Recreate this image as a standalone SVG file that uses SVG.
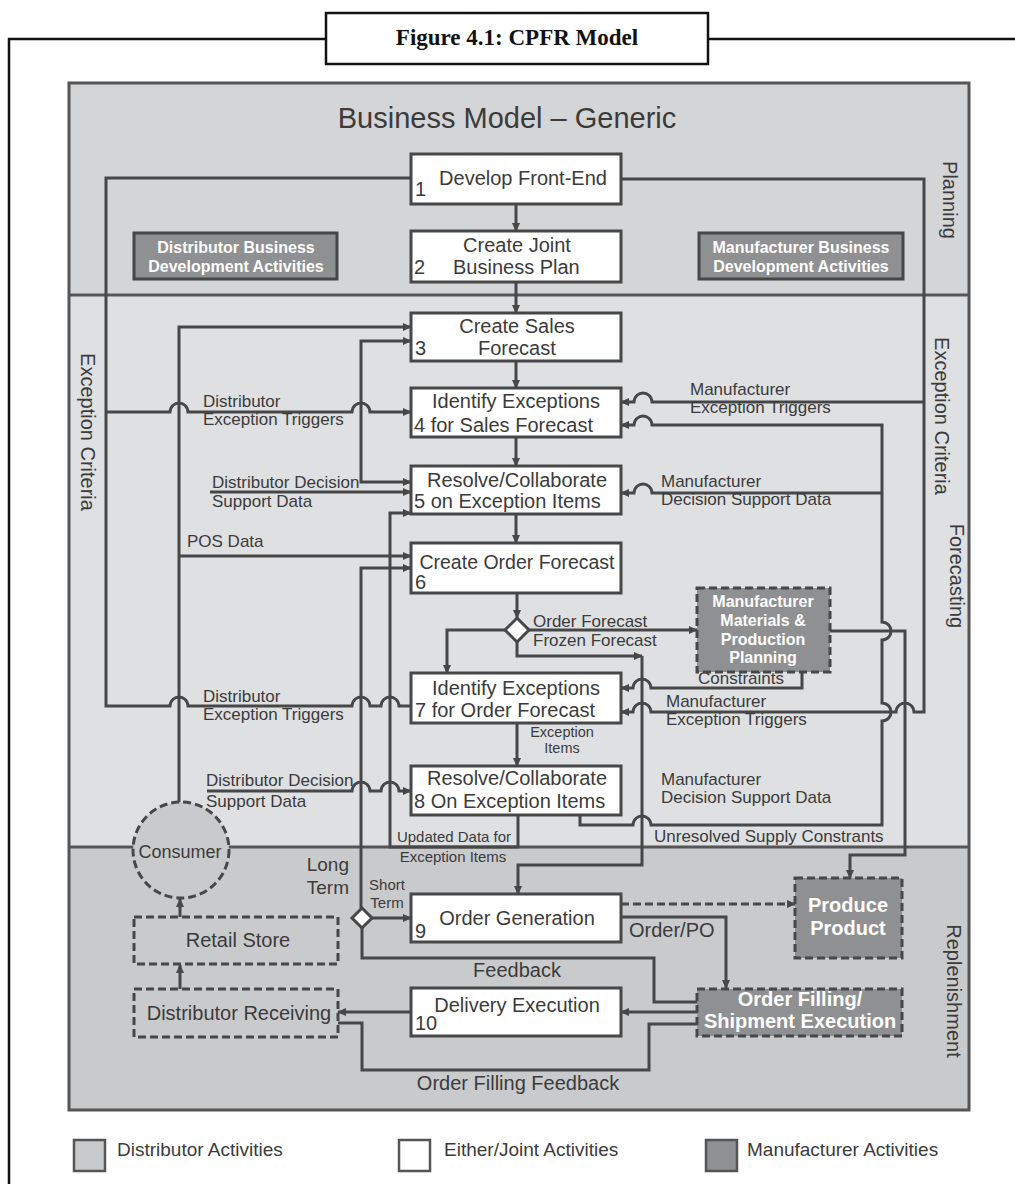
<svg xmlns="http://www.w3.org/2000/svg" width="1015" height="1184" viewBox="0 0 1015 1184">
<defs>
<marker id="ah" markerUnits="userSpaceOnUse" markerWidth="9" markerHeight="8" refX="8" refY="4" orient="auto-start-reverse"><path d="M0,0 L9,4 L0,8 z" fill="#474747"/></marker>
<style>
text{font-family:"Liberation Sans",Arial,sans-serif;fill:#3b3b3b}
.ln{fill:none;stroke:#474747;stroke-width:3}
.ar{marker-end:url(#ah)}
.nd{fill:#fff;stroke:#474747;stroke-width:3}
.dk{fill:#8f9092;stroke:#474747;stroke-width:3}
.ds{stroke-dasharray:8 4}
.t20{font-size:20px}
.t17{font-size:17px}
.t15{font-size:15px}
.mid{text-anchor:middle}
.wb{fill:#fff;font-weight:bold}
</style>
</defs>
<rect width="1015" height="1184" fill="#fff"/>
<!-- outer frame and title -->
<g id="frame">
<path d="M9,1184 L9,39 L326,39 M708,39 L1015,39" fill="none" stroke="#111" stroke-width="2.5"/>
<rect x="326" y="13" width="382" height="51" fill="#fff" stroke="#111" stroke-width="2.5"/>
<text x="517" y="45" text-anchor="middle" style="font-family:'Liberation Serif',serif;font-weight:bold;font-size:23px;fill:#111">Figure 4.1: CPFR Model</text>
</g>
<!-- sections -->
<g id="sections">
<rect x="69" y="83" width="900" height="212" fill="#d4d5d7"/>
<rect x="69" y="295" width="900" height="552" fill="#dfe0e2"/>
<rect x="69" y="847" width="900" height="263" fill="#c9cacc"/>
<rect x="69" y="83" width="900" height="1027" fill="none" stroke="#555" stroke-width="3"/>
<line x1="69" y1="295" x2="969" y2="295" stroke="#555" stroke-width="3"/>
<line x1="69" y1="847" x2="969" y2="847" stroke="#555" stroke-width="3"/>
<text x="507" y="128" text-anchor="middle" style="font-size:29px">Business Model – Generic</text>
<text transform="translate(943,200) rotate(90)" class="t20 mid">Planning</text>
<text transform="translate(935,416) rotate(90)" class="t20 mid">Exception Criteria</text>
<text transform="translate(950,576) rotate(90)" class="t20 mid">Forecasting</text>
<text transform="translate(947,991) rotate(90)" class="t20 mid">Replenishment</text>
<text transform="translate(81,432) rotate(90)" class="t20 mid">Exception Criteria</text>
</g>
<!-- connectors -->
<g id="connectors">
<path class="ln ar" d="M516,204 L516,231"/>
<path class="ln ar" d="M516,282 L516,313"/>
<path class="ln ar" d="M516,361 L516,388"/>
<path class="ln ar" d="M516,437 L516,466"/>
<path class="ln ar" d="M516,514 L516,543"/>
<path class="ln ar" d="M517,593 L517,618"/>
<path class="ln ar" d="M505,630 L447,630 L447,673"/>
<path class="ln ar" d="M529,630 L697,630"/>
<path class="ln ar" d="M517,642 L517,656 L642,656"/>
<path class="ln ar" d="M642,656 L642,865 L518,865 L518,894"/>
<path class="ln ar" d="M517,723 L517,766"/>
<path class="ln ar" d="M518,815 L518,847 L390,847 L390,513 L411,513"/>
<path class="ln" d="M411,178 L106,178 L106,706 L170,706 C171,694 187,694 188,706 L352,706 C353,694 369,694 370,706 L381,706 C382,694 398,694 399,706 L411,706"/>
<path class="ln ar" d="M106,412 L170,412 C171,400 187,400 188,412 L352,412 C353,400 369,400 370,412 L411,412"/>
<path class="ln ar" d="M179,802 L179,327 L411,327"/>
<path class="ln ar" d="M179,556 L411,556"/>
<path class="ln ar" d="M411,341 L361,341 L361,482 L411,482" marker-start="url(#ah)"/>
<path class="ln ar" d="M210,492 L411,492"/>
<path class="ln ar" d="M361,908 L361,568 L411,568"/>
<path class="ln ar" d="M207,791 L352,791 C353,779 369,779 370,791 L381,791 C382,779 398,779 399,791 L411,791"/>
<path class="ln ar" d="M372,918 L411,918"/>
<path class="ln" d="M362,928 L362,958 L654,958 L654,1002 L697,1002"/>
<path class="ln ar" d="M621,917 L726,917 L726,988"/>
<path class="ln ar ds" d="M621,904 L795,904"/>
<path class="ln ar" d="M697,1012 L621,1012"/>
<path class="ln" d="M697,1024 L649,1024 L649,1070 L362,1070 L362,1023 L338,1023"/>
<path class="ln ar" d="M411,1012 L338,1012"/>
<path class="ln ar" d="M180,989 L180,965"/>
<path class="ln ar" d="M180,917 L180,899"/>
<path class="ln ar" d="M621,179 L924,179 L924,712 L914,712 C913,700 897,700 896,712 L651,712 C650,700 634,700 633,712 L621,712"/>
<path class="ln ar" d="M924,402 L652,402 C651,390 635,390 634,402 L621,402"/>
<path class="ln ar" d="M580,815 L580,825 L633,825 C634,813 650,813 651,825 L882,825 L882,721 C894,720 894,704 882,703 L882,640 C894,639 894,623 882,622 L882,425 L652,425 C651,413 635,413 634,425 L621,425"/>
<path class="ln ar" d="M882,493 L652,493 C651,481 635,481 634,493 L621,493"/>
<path class="ln ar" d="M830,631 L905,631 L905,855 L850,855 L850,878"/>
<path class="ln ar" d="M802,672 L802,688 L651,688 C650,676 634,676 633,688 L621,688"/>
<path d="M517,618 L529,630 L517,642 L505,630 Z" fill="#fff" stroke="#474747" stroke-width="3"/>
<path d="M362,908 L372,918 L362,928 L352,918 Z" fill="#fff" stroke="#474747" stroke-width="3"/>
<text x="203" y="407" class="t17">Distributor</text>
<text x="203" y="425" class="t17">Exception Triggers</text>
<text x="212" y="488" class="t17">Distributor Decision</text>
<text x="212" y="507" class="t17">Support Data</text>
<text x="187" y="547" class="t17">POS Data</text>
<text x="203" y="702" class="t17">Distributor</text>
<text x="203" y="720" class="t17">Exception Triggers</text>
<text x="206" y="786" class="t17">Distributor Decision</text>
<text x="206" y="807" class="t17">Support Data</text>
<text x="690" y="395" class="t17">Manufacturer</text>
<text x="690" y="413" class="t17">Exception Triggers</text>
<text x="661" y="487" class="t17">Manufacturer</text>
<text x="661" y="505" class="t17">Decision Support Data</text>
<text x="533" y="627" class="t17">Order Forecast</text>
<text x="533" y="646" class="t17">Frozen Forecast</text>
<text x="698" y="684" class="t17">Constraints</text>
<text x="666" y="707" class="t17">Manufacturer</text>
<text x="666" y="725" class="t17">Exception Triggers</text>
<text x="562" y="737" class="mid" style="font-size:14.5px">Exception</text>
<text x="562" y="753" class="mid" style="font-size:14.5px">Items</text>
<text x="661" y="785" class="t17">Manufacturer</text>
<text x="661" y="803" class="t17">Decision Support Data</text>
<text x="654" y="842" class="t17">Unresolved Supply Constrants</text>
<text x="454" y="842" class="t15 mid">Updated Data for</text>
<text x="453" y="862" class="t15 mid">Exception Items</text>
<text x="349" y="871" style="font-size:19px;text-anchor:end">Long</text>
<text x="349" y="894" style="font-size:19px;text-anchor:end">Term</text>
<text x="387" y="890" class="t15 mid">Short</text>
<text x="387" y="908" class="t15 mid">Term</text>
<text x="629" y="937" class="t20">Order/PO</text>
<text x="517" y="977" class="t20 mid">Feedback</text>
<text x="518" y="1090" class="t20 mid">Order Filling Feedback</text>
</g>
<!-- nodes -->
<g id="n1"><rect class="nd" x="411" y="154" width="210" height="50"/><text x="523" y="185" class="t20 mid">Develop Front-End</text><text x="415" y="196" class="t20">1</text></g>
<g id="n2"><rect class="nd" x="411" y="231" width="210" height="51"/><text x="517" y="252" class="t20 mid">Create Joint</text><text y="274" class="t20"><tspan x="414">2</tspan><tspan x="453">Business Plan</tspan></text></g>
<g id="n3"><rect class="nd" x="411" y="313" width="210" height="48"/><text x="517" y="333" class="t20 mid">Create Sales</text><text y="355" class="t20"><tspan x="415">3</tspan><tspan x="478">Forecast</tspan></text></g>
<g id="n4"><rect class="nd" x="411" y="388" width="210" height="49"/><text x="516" y="408" class="t20 mid">Identify Exceptions</text><text x="414" y="432" class="t20">4 for Sales Forecast</text></g>
<g id="n5"><rect class="nd" x="411" y="466" width="210" height="48"/><text x="517" y="487" class="t20 mid">Resolve/Collaborate</text><text x="414" y="508" class="t20">5 on Exception Items</text></g>
<g id="n6"><rect class="nd" x="411" y="543" width="210" height="50"/><text x="517" y="569" class="mid" style="font-size:19.5px">Create Order Forecast</text><text x="415" y="589" class="t20">6</text></g>
<g id="n7"><rect class="nd" x="411" y="673" width="210" height="50"/><text x="516" y="695" class="t20 mid">Identify Exceptions</text><text x="415" y="717" class="t20">7 for Order Forecast</text></g>
<g id="n8"><rect class="nd" x="411" y="766" width="210" height="49"/><text x="517" y="785" class="t20 mid">Resolve/Collaborate</text><text x="414" y="808" class="t20">8 On Exception Items</text></g>
<g id="n9"><rect class="nd" x="411" y="894" width="210" height="48"/><text x="517" y="925" class="t20 mid">Order Generation</text><text x="415" y="938" class="t20">9</text></g>
<g id="n10"><rect class="nd" x="411" y="988" width="210" height="48"/><text x="517" y="1012" class="t20 mid">Delivery Execution</text><text x="415" y="1030" class="t20">10</text></g>
<g id="dbda"><rect class="dk" x="134" y="233" width="203" height="46"/><text x="236" y="253" class="mid wb" style="font-size:16px">Distributor Business</text><text x="236" y="272" class="mid wb" style="font-size:16px">Development Activities</text></g>
<g id="mbda"><rect class="dk" x="699" y="233" width="204" height="46"/><text x="801" y="253" class="mid wb" style="font-size:16px">Manufacturer Business</text><text x="801" y="272" class="mid wb" style="font-size:16px">Development Activities</text></g>
<g id="mmpp"><rect class="dk ds" x="697" y="588" width="133" height="84"/><text x="763" y="607" class="mid wb" style="font-size:16px">Manufacturer</text><text x="763" y="626" class="mid wb" style="font-size:16px">Materials &amp;</text><text x="763" y="645" class="mid wb" style="font-size:16px">Production</text><text x="763" y="663" class="mid wb" style="font-size:16px">Planning</text></g>
<g id="consumer"><circle cx="181" cy="850" r="48" fill="#c9cacc" stroke="#474747" stroke-width="3" class="ds"/><text x="180" y="858" class="mid" style="font-size:18px">Consumer</text></g>
<g id="retail"><rect x="134" y="917" width="204" height="47" fill="none" stroke="#474747" stroke-width="3" class="ds"/><text x="238" y="947" class="t20 mid">Retail Store</text></g>
<g id="receiving"><rect x="134" y="989" width="204" height="48" fill="none" stroke="#474747" stroke-width="3" class="ds"/><text x="239" y="1020" class="t20 mid">Distributor Receiving</text></g>
<g id="produce"><rect class="dk ds" x="795" y="878" width="107" height="80"/><text x="848" y="912" class="t20 mid wb">Produce</text><text x="848" y="935" class="t20 mid wb">Product</text></g>
<g id="orderfill"><rect class="dk ds" x="697" y="989" width="205" height="47"/><text x="800" y="1006" class="t20 mid wb">Order Filling/</text><text x="800" y="1028" class="t20 mid wb">Shipment Execution</text></g>
<!-- legend -->
<g id="legend">
<rect x="74" y="1140" width="31" height="31" fill="#c9cacc" stroke="#555" stroke-width="2.5"/>
<text x="117" y="1156" style="font-size:19px">Distributor Activities</text>
<rect x="399" y="1140" width="31" height="31" fill="#fff" stroke="#555" stroke-width="2.5"/>
<text x="444" y="1156" style="font-size:19px">Either/Joint Activities</text>
<rect x="706" y="1140" width="31" height="31" fill="#8f9092" stroke="#555" stroke-width="2.5"/>
<text x="747" y="1156" style="font-size:19px">Manufacturer Activities</text>
</g>
</svg>
